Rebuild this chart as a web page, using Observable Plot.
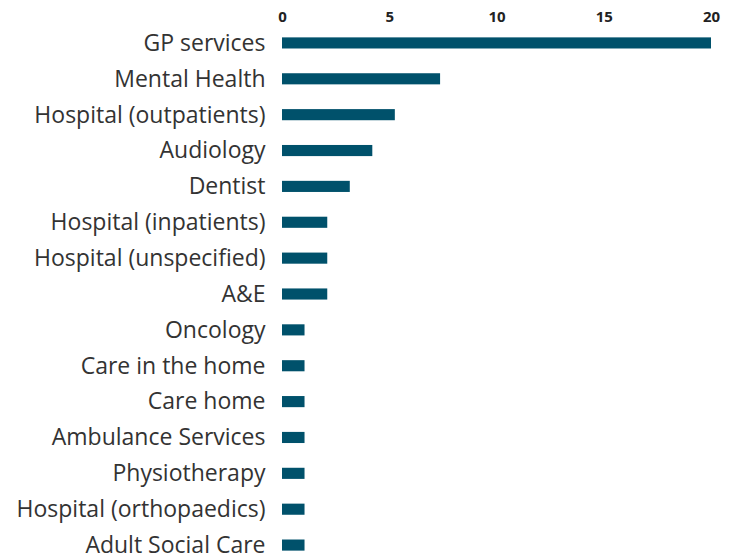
<!DOCTYPE html>
<html>
<head>
<meta charset="utf-8">
<script src="https://cdn.jsdelivr.net/npm/d3@7"></script>
<script src="https://cdn.jsdelivr.net/npm/@observablehq/plot@0.6"></script>
<style>
  html, body { margin: 0; padding: 0; background: #fff; }
  #chart { width: 739px; height: 553px; overflow: hidden; }
</style>
</head>
<body>
<div id="chart"></div>
<script>
const services = [
  "GP services", "Mental Health", "Hospital (outpatients)", "Audiology", "Dentist",
  "Hospital (inpatients)", "Hospital (unspecified)", "A&E", "Oncology",
  "Care in the home", "Care home", "Ambulance Services", "Physiotherapy",
  "Hospital (orthopaedics)", "Adult Social Care"
];
const values = [20, 7.37, 5.26, 4.21, 3.16, 2.11, 2.11, 2.11, 1.05, 1.05, 1.05, 1.05, 1.05, 1.05, 1.05];
const xTicks = [0, 5, 10, 15, 20];

const data = services.map((s, i) => ({service: s, value: values[i]}));

const chart = Plot.plot({
  width: 739,
  height: 553,
  marginLeft: 282,
  marginRight: 28,
  marginTop: 25,
  marginBottom: 0,
  style: {fontFamily: "'Open Sans', sans-serif", background: "#fff", overflow: "hidden"},
  x: {domain: [0, 20], range: [282, 711], axis: null, label: null},
  y: {domain: services, range: [25, 563], paddingInner: 0.69, paddingOuter: 0.345, round: false, axis: null, label: null},
  marks: [
    Plot.barX(data, {x: "value", y: "service", fill: "#00516b"}),
    Plot.axisX(xTicks, {anchor: "top", label: null, tickSize: 0, tickPadding: 4, fontSize: 15, fontWeight: "bold", fill: "#222", tickFormat: d => d}),
    Plot.axisY(services, {anchor: "left", label: null, tickSize: 0, tickPadding: 17, fontSize: 23, fill: "#333"})
  ]
});
document.getElementById("chart").appendChild(chart);
</script>
</body>
</html>
